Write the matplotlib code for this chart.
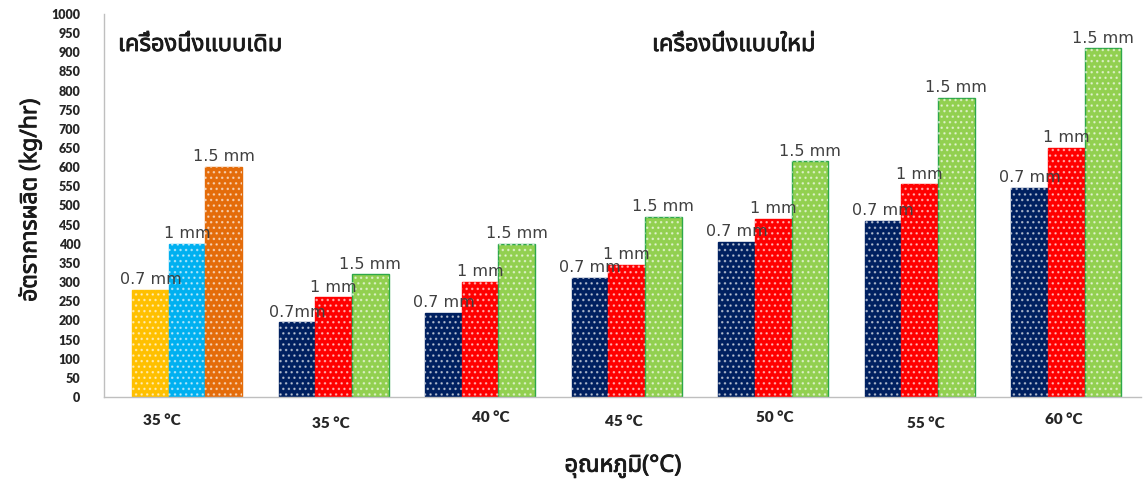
import matplotlib
matplotlib.use("Agg")
import matplotlib.pyplot as plt
import matplotlib.patheffects as pe
import numpy as np
from matplotlib import font_manager

# production rate (kg/hr) per drying temperature and slice thickness
categories = ["35 °C", "35 °C", "40 °C", "45 °C", "50 °C", "55 °C", "60 °C"]
thickness = ["0.7 mm", "1 mm", "1.5 mm"]
rate_07 = [280, 195, 220, 310, 405, 460, 545]
rate_10 = [400, 260, 300, 345, 465, 555, 650]
rate_15 = [600, 320, 400, 470, 615, 780, 910]
# the second group's first label is written without a space
label_07 = ["0.7 mm", "0.7mm", "0.7 mm", "0.7 mm", "0.7 mm", "0.7 mm", "0.7 mm"]

old_title = "เครื่องนึ่งแบบเดิม"
new_title = "เครื่องนึ่งแบบใหม่"
y_title = "อัตราการผลิต (kg/hr)"
x_title = "อุณหภูมิ(°C)"


def find_thai_family():
    # look through installed fonts for one that has Thai glyphs
    try:
        from fontTools.ttLib import TTFont
    except ImportError:
        return None
    found = []
    for f in font_manager.fontManager.ttflist:
        try:
            tt = TTFont(f.fname, fontNumber=0, lazy=True)
            cmap = tt.getBestCmap() or {}
        except Exception:
            continue
        if all(c in cmap for c in (0x0E40, 0x0E04, 0x0E23, 0x0E37)):
            found.append(f.name)
    if not found:
        return None
    for pref in ("Noto Sans Thai", "Noto Sans Thai UI", "Loma", "Garuda", "Tahoma", "DejaVu Sans"):
        if pref in found:
            return pref
    return found[0]


thai = find_thai_family()
thai_fam = [thai, "DejaVu Sans"] if thai else ["DejaVu Sans"]
# the Thai face has no bold weight, so thicken it with a thin stroke
heavy = [pe.withStroke(linewidth=0.6, foreground="#1a1a1a")]

# colours for the old machine (first group) and the new machine
old_colors = ["#FFC000", "#00B0F0", "#E46C0A"]
new_colors = ["#002060", "#FF0000", "#92D050"]
new_edges = ["#002060", "#FF0000", "#2EA84A"]

plt.rcParams["hatch.linewidth"] = 1.0

fig = plt.figure(figsize=(11.44, 4.79), dpi=100)
ax = fig.add_axes([104 / 1144, 82 / 479, 1037 / 1144, 383 / 479])

x = np.arange(len(categories))
w = 0.25
series = [rate_07, rate_10, rate_15]
for i, vals in enumerate(series):
    pos = x + (i - 1) * w
    faces = [old_colors[i]] + [new_colors[i]] * (len(x) - 1)
    edges = [old_colors[i]] + [new_edges[i]] * (len(x) - 1)
    ax.bar(pos, vals, w, color=faces, edgecolor=edges, linewidth=1.0, zorder=2)
    # white dotted fill on top of the solid bars
    ax.bar(pos, vals, w, facecolor="none", edgecolor="white", linewidth=0,
           hatch="...", alpha=0.55, zorder=3)
    for j, (p, v) in enumerate(zip(pos, vals)):
        txt = label_07[j] if i == 0 else thickness[i]
        ax.annotate(txt, (p, v), xytext=(0, 2), textcoords="offset points",
                    ha="center", va="bottom", fontsize=11.5, color="#404040",
                    family="DejaVu Sans", zorder=5)

ax.set_xlim(-0.567, 6.51)
ax.set_ylim(0, 1000)
ax.set_yticks(np.arange(0, 1001, 50))
ax.tick_params(axis="y", length=0, pad=17)
for lab in ax.get_yticklabels():
    lab.set_fontfamily("Lato")
    lab.set_fontweight("heavy")
    lab.set_fontsize(9)
    lab.set_color("#262626")

# category labels sit a little off-centre, as typed
ax.set_xticks([])
shift_x = [-0.17, -0.02, 0.07, -0.02, 0.01, 0.04, -0.02]
shift_y = [-17, -19, -15, -18, -15, -19, -16]
for k, name in enumerate(categories):
    ax.annotate(name, (x[k] + shift_x[k], 0), xycoords=("data", "axes fraction"),
                xytext=(0, shift_y[k]), textcoords="offset points",
                ha="center", va="center", fontsize=11, fontweight="heavy",
                family="Lato", color="#262626")

for side in ("top", "right"):
    ax.spines[side].set_visible(False)
ax.spines["left"].set_color("#BFBFBF")
ax.spines["bottom"].set_color("#BFBFBF")
ax.spines["left"].set_linewidth(1.0)
ax.spines["bottom"].set_linewidth(1.0)

fig.text(118 / 1144, 1 - 45 / 479, old_title, ha="left", va="center",
         fontsize=17, family=thai_fam, color="#1a1a1a", path_effects=heavy)
fig.text(652 / 1144, 1 - 45 / 479, new_title, ha="left", va="center",
         fontsize=17, family=thai_fam, color="#1a1a1a", path_effects=heavy)
fig.text(30 / 1144, 1 - 200 / 479, y_title, ha="center", va="center",
         rotation=90, fontsize=16.5, family=thai_fam, color="#1a1a1a", path_effects=heavy)
fig.text(623 / 1144, 1 - 466 / 479, x_title, ha="center", va="center",
         fontsize=17, family=thai_fam, color="#1a1a1a", path_effects=heavy)

fig.savefig("out.png", dpi=100)
